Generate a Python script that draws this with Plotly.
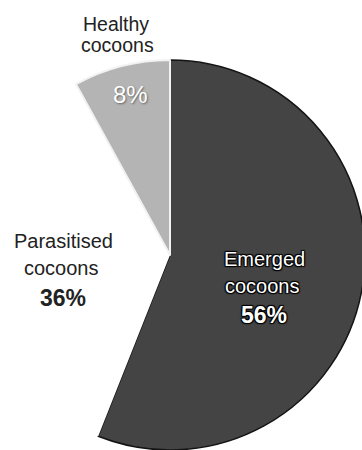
import plotly.graph_objects as go

labels = ["Emerged cocoons", "Parasitised cocoons", "Healthy cocoons"]
values = [56, 36, 8]
colors = ["#444444", "#ffffff", "#b4b4b4"]
line_colors = ["#141414", "rgba(255,255,255,0)", "#f2f2f2"]

W, H = 420, 450
SHIFT = 40  # px the figure is shifted left so the pie sits off-centre


def px(x, y):
    return (x + SHIFT) / W, 1 - y / H


fig = go.Figure(go.Pie(
    labels=labels,
    values=values,
    sort=False,
    direction="clockwise",
    rotation=0,
    textinfo="none",
    hoverinfo="label+percent",
    marker=dict(colors=colors, line=dict(color=line_colors, width=[1.5, 0, 2])),
    domain=dict(x=[0, 1], y=[0, 1 - 60 / H]),
    showlegend=False,
))

font = "Liberation Sans, Arial, sans-serif"
ann = []
HALO = "1px 1px 1px #000, -1px -1px 1px #000, 1px -1px 1px #000, -1px 1px 1px #000"


def add(text, x, y, size, color="#222222", bold=False, shadow=None):
    xx, yy = px(x, y)
    f = dict(family=font, size=size, color=color)
    if shadow:
        f["shadow"] = shadow
    ann.append(dict(text=f"<b>{text}</b>" if bold else text, x=xx, y=yy,
                    xref="paper", yref="paper", showarrow=False,
                    xanchor="center", yanchor="middle", font=f))


add("Healthy", 116, 24, 19.5)
add("cocoons", 117, 45, 19.5)
add(f"{values[2]}%", 130, 94.5, 24, color="#ffffff", shadow="1px 1px 2px #666")
add("Parasitised", 63.5, 241.5, 20)
add("cocoons", 61.5, 268, 20)
add(f"{values[1]}%", 62.5, 297.5, 23, bold=True)
add("Emerged", 264.5, 258.5, 20, color="#ffffff", shadow=HALO)
add("cocoons", 262.5, 286, 20, color="#ffffff", shadow=HALO)
add(f"{values[0]}%", 264, 315, 23, color="#ffffff", bold=True, shadow=HALO)

fig.update_layout(
    width=W, height=H,
    margin=dict(l=0, r=0, t=0, b=0),
    paper_bgcolor="white",
    plot_bgcolor="white",
    annotations=ann,
)

post = (
    "document.documentElement.style.overflow='hidden';"
    "document.body.style.overflow='hidden';"
    "document.body.style.margin='0';"
    f"document.getElementById('{{plot_id}}').style.marginLeft='-{SHIFT}px';"
)

fig.write_html("out.html", post_script=post, config={"displayModeBar": False})
